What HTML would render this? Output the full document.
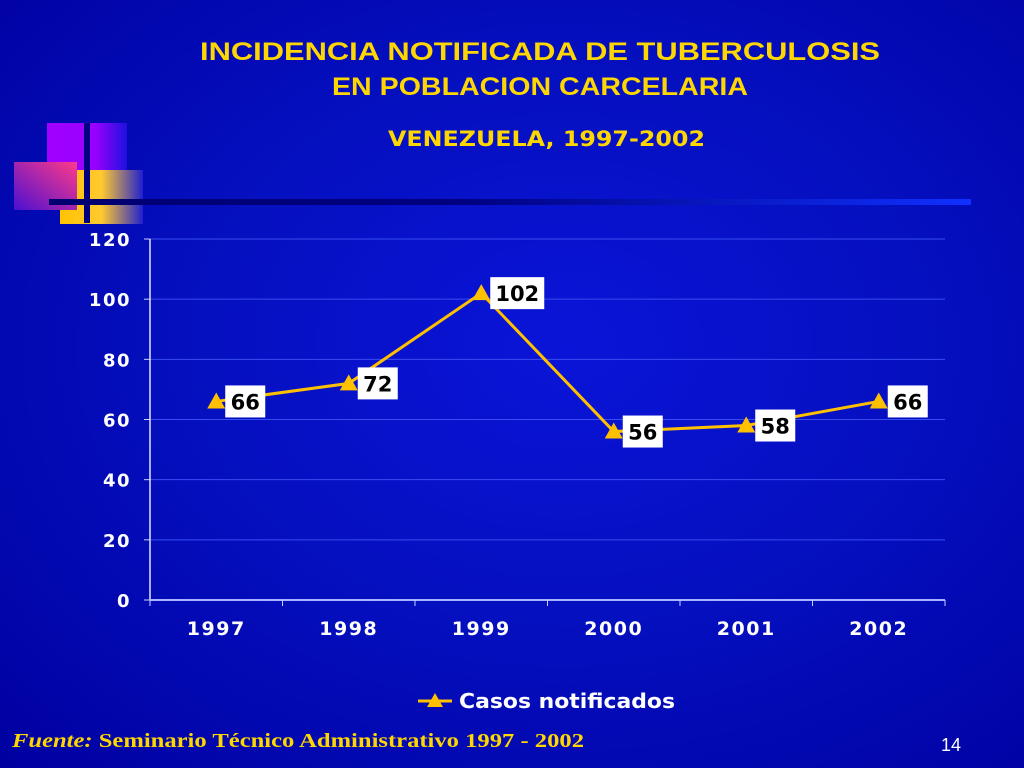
<!DOCTYPE html>
<html><head><meta charset="utf-8"><style>
body{margin:0;width:1024px;height:768px;overflow:hidden;background:radial-gradient(ellipse at 55% 45%,#0a14d8 0%,#0510c0 45%,#0000a0 100%);font-family:"Liberation Sans",sans-serif;position:relative}
</style></head><body>
<svg width="1024" height="768" style="position:absolute;left:0;top:0">
<defs>
<linearGradient id="gp" x1="0" x2="1"><stop offset="0" stop-color="#a000ff"/><stop offset="0.6" stop-color="#9a00ff"/><stop offset="1" stop-color="#2010e0"/></linearGradient>
<linearGradient id="gy" x1="0" x2="1"><stop offset="0" stop-color="#ffc400"/><stop offset="0.5" stop-color="#ffc830"/><stop offset="1" stop-color="#2020d0"/></linearGradient>
<linearGradient id="gm" x1="1" y1="0" x2="0" y2="1"><stop offset="0" stop-color="#ff3a8a"/><stop offset="1" stop-color="#4a10d0"/></linearGradient>
<linearGradient id="gl" x1="0" x2="1"><stop offset="0" stop-color="#000070"/><stop offset="0.45" stop-color="#000080"/><stop offset="1" stop-color="#1030ff"/></linearGradient>
</defs>
<text x="200" y="60" textLength="680" lengthAdjust="spacingAndGlyphs" fill="#ffd700" font-weight="bold" font-size="25">INCIDENCIA NOTIFICADA DE TUBERCULOSIS</text>
<text x="332" y="95" textLength="416" lengthAdjust="spacingAndGlyphs" fill="#ffd700" font-weight="bold" font-size="25">EN POBLACION CARCELARIA</text>
<text x="388" y="146" textLength="317" lengthAdjust="spacingAndGlyphs" fill="#ffd700" font-family="DejaVu Sans,sans-serif" font-weight="bold" font-size="21">VENEZUELA, 1997-2002</text>
<g>
<rect x="47" y="123" width="80" height="60" fill="url(#gp)"/>
<rect x="60" y="170" width="83" height="54" fill="url(#gy)"/>
<rect x="14" y="162" width="63" height="48" fill="url(#gm)"/>
<rect x="84" y="123" width="6" height="100" fill="#000080"/>
<rect x="49" y="199" width="922" height="6" fill="url(#gl)"/>
</g>
<g id="plot"></g>
<g>
<line x1="418" y1="701" x2="452" y2="701" stroke="#ffc000" stroke-width="3"/>
<polygon points="435,693 443,707 427,707" fill="#ffc000"/>
<text x="459" y="708" textLength="216" lengthAdjust="spacingAndGlyphs" fill="#fff" font-family="DejaVu Sans,sans-serif" font-weight="bold" font-size="20">Casos notificados</text>
</g>
<text x="12" y="747" textLength="572" lengthAdjust="spacingAndGlyphs" fill="#ffd700" font-family="Liberation Serif,serif" font-weight="bold" font-size="20"><tspan font-style="italic">Fuente:</tspan> Seminario Técnico Administrativo 1997 - 2002</text>
<text x="941" y="751" fill="#fff" font-size="18">14</text>
</svg>
<script>
const categories=["1997","1998","1999","2000","2001","2002"];
const values=[66,72,102,56,58,66];
const yTicks=[0,20,40,60,80,100,120];
const x0=150,x1=945,yB=600,yT=239,ymax=120;
const bw=(x1-x0)/categories.length;
const X=i=>x0+bw*(i+0.5);
const Y=v=>yB-(yB-yT)*v/ymax;
const g=document.getElementById('plot');
const NS='http://www.w3.org/2000/svg';
function mk(t,a,p){const e=document.createElementNS(NS,t);for(const k in a)e.setAttribute(k,a[k]);(p||g).appendChild(e);return e;}
yTicks.forEach(v=>{
 if(v>0){const l=mk('line',{x1:x0,x2:x1,y1:Y(v),y2:Y(v),stroke:'#3a4cf0','stroke-width':1});
 
 }
 mk('line',{x1:x0-6,x2:x0,y1:Y(v),y2:Y(v),stroke:'#c8d0ff'});
 const t=mk('text',{x:131,y:Y(v)+7,'text-anchor':'end',fill:'#fff','font-family':'DejaVu Sans,sans-serif','font-weight':'bold','font-size':18,'letter-spacing':1.5});
 t.textContent=v;
 
 
});
mk('line',{x1:x0,x2:x0,y1:yT,y2:yB,stroke:'#e0e4ff','stroke-width':1.5});
mk('line',{x1:x0,x2:x1,y1:yB,y2:yB,stroke:'#a8b4ff','stroke-width':2});
for(let i=0;i<=categories.length;i++)mk('line',{x1:x0+bw*i,x2:x0+bw*i,y1:yB,y2:yB+6,stroke:'#c8d0ff'});
categories.forEach((c,i)=>{
 const t=mk('text',{x:X(i),y:635,'text-anchor':'middle',fill:'#fff','font-family':'DejaVu Sans,sans-serif','font-weight':'bold','font-size':19,'letter-spacing':1.5});
 t.textContent=c;
 
 
});
const line=mk('polyline',{points:values.map((v,i)=>X(i)+','+Y(v)).join(' '),fill:'none',stroke:'#ffc000','stroke-width':3});


values.forEach((v,i)=>{
 const x=X(i),y=Y(v);
 const p=mk('polygon',{points:`${x},${y-9} ${x+9},${y+7} ${x-9},${y+7}`,fill:'#ffc000'});
 
 
 const w=String(v).length*14+12;
 const r=mk('rect',{x:x+9,y:y-16,width:w,height:32,fill:'#fff'});
 
 
 const t=mk('text',{x:x+9+w/2,y:y+8,'text-anchor':'middle',fill:'#000','font-family':'DejaVu Sans,sans-serif','font-weight':'bold','font-size':21});
 t.textContent=v;
 
 
});
</script>
</body></html>
